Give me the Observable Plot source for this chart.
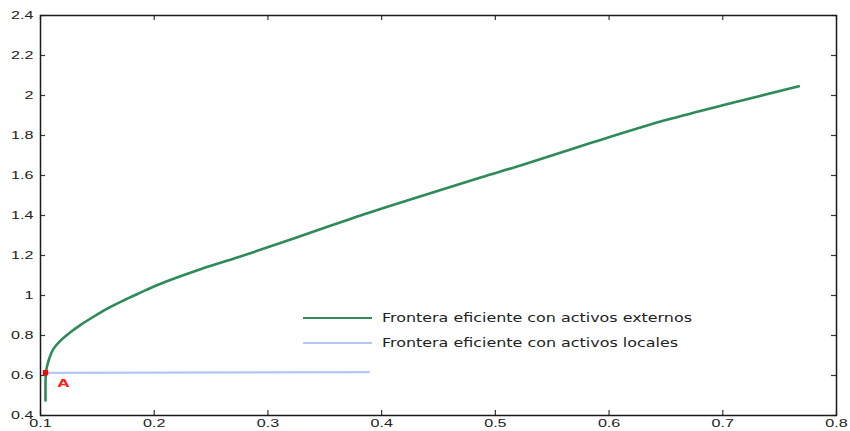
<!DOCTYPE html>
<html>
<head>
<meta charset="utf-8">
<script src="https://cdn.jsdelivr.net/npm/d3@7"></script>
<script src="https://cdn.jsdelivr.net/npm/@observablehq/plot@0.6"></script>
<style>
  html, body { margin: 0; padding: 0; background: #fff; }
  #chart svg { display: block; }
</style>
</head>
<body>
<div id="chart"></div>
<script>
// Efficient frontier with foreign assets (risk on x, return on y)
const externosX = [0.1044, 0.1044, 0.1046, 0.1050, 0.1064, 0.1080, 0.1114, 0.1180, 0.1260, 0.1350,
                   0.1455, 0.1580, 0.1718, 0.1870, 0.2040, 0.2407, 0.2744, 0.3200, 0.3814, 0.4400,
                   0.4870, 0.5221, 0.5837, 0.6500, 0.7095, 0.7669];
const externosY = [0.475, 0.550, 0.600, 0.625, 0.660, 0.690, 0.733, 0.777, 0.815, 0.852,
                   0.890, 0.932, 0.972, 1.012, 1.055, 1.131, 1.192, 1.280, 1.400, 1.506,
                   1.590, 1.650, 1.762, 1.877, 1.965, 2.046];

// Efficient frontier with local assets only
const localesX = [0.1044, 0.2000, 0.3000, 0.3887];
const localesY = [0.613, 0.614, 0.6155, 0.6165];

// Marked portfolio
const puntoAX = [0.1044];
const puntoAY = [0.614];
const puntoALabel = ["A"];

// Axis ticks
const xTicks = [0.1, 0.2, 0.3, 0.4, 0.5, 0.6, 0.7, 0.8];
const xTickLabels = ["0.1", "0.2", "0.3", "0.4", "0.5", "0.6", "0.7", "0.8"];
const yTicks = [0.4, 0.6, 0.8, 1.0, 1.2, 1.4, 1.6, 1.8, 2.0, 2.2, 2.4];
const yTickLabels = ["0.4", "0.6", "0.8", "1", "1.2", "1.4", "1.6", "1.8", "2", "2.2", "2.4"];

// Legend
const seriesNames = ["Frontera eficiente con activos externos", "Frontera eficiente con activos locales"];
const seriesColors = ["#2e8a58", "#b3c7f7"];

const W = 850, H = 431;
const M = {left: 40, right: 14, top: 15, bottom: 16};
const innerW = W - M.left - M.right;
const innerH = H - M.top - M.bottom;
const TICK = 5;
const tickStroke = {stroke: "#333", strokeWidth: 1.2};

const plot = Plot.plot({
  width: W,
  height: H,
  marginLeft: M.left,
  marginRight: M.right,
  marginTop: M.top,
  marginBottom: M.bottom,
  x: {domain: [0.1, 0.8]},
  y: {domain: [0.4, 2.4]},
  style: {fontFamily: "'Liberation Sans', Arial, sans-serif", fontSize: "11.5px", color: "#222", background: "#fff"},
  marks: [
    Plot.axisX(xTicks, {anchor: "bottom", tickSize: 0, tickPadding: 3, label: null,
      tickFormat: (d, i) => xTickLabels[i]}),
    Plot.axisY(yTicks, {anchor: "left", tickSize: 0, tickPadding: 7, label: null,
      tickFormat: (d, i) => yTickLabels[i]}),
    // inward tick marks on all four sides
    Plot.ruleX(xTicks, {x: d => d, insetTop: innerH - TICK, ...tickStroke}),
    Plot.ruleX(xTicks, {x: d => d, insetBottom: innerH - TICK, ...tickStroke}),
    Plot.ruleY(yTicks, {y: d => d, insetRight: innerW - TICK, ...tickStroke}),
    Plot.ruleY(yTicks, {y: d => d, insetLeft: innerW - TICK, ...tickStroke}),
    Plot.line(localesX, {x: localesX, y: localesY, stroke: seriesColors[1], strokeWidth: 2.2}),
    Plot.line(externosX, {x: externosX, y: externosY, stroke: seriesColors[0], strokeWidth: 2.6, curve: "catmull-rom"}),
    Plot.dot(puntoAX, {x: puntoAX, y: puntoAY, symbol: "square", r: 3, fill: "#ff0000", stroke: null}),
    Plot.text(puntoAX, {x: puntoAX, y: puntoAY, text: puntoALabel, dx: 18, dy: 11,
      fill: "#ff2020", fontWeight: "bold", fontSize: 11, fontFamily: "'DejaVu Sans', sans-serif"}),
    Plot.frame({stroke: "#1a1a1a", strokeWidth: 1.5})
  ]
});

document.getElementById("chart").appendChild(plot);

// widen axis labels to the stretched lettering of the figure
d3.select(plot).selectAll("g[aria-label='x-axis tick label'] text, g[aria-label='y-axis tick label'] text, g[aria-label='text'] text")
  .each(function() {
    const w = this.getComputedTextLength();
    this.setAttribute("textLength", (w * 1.4).toFixed(1));
    this.setAttribute("lengthAdjust", "spacingAndGlyphs");
  });

// legend inside the plotting area
const legend = d3.select(plot).append("g")
  .attr("font-family", "'DejaVu Sans', sans-serif")
  .attr("font-size", 11.5)
  .attr("text-anchor", "start")
  .attr("fill", "#222");
const legendWidths = [310, 296];
seriesNames.forEach((name, i) => {
  const y = 318 + i * 25;
  legend.append("line")
    .attr("x1", 303).attr("x2", 372).attr("y1", y).attr("y2", y)
    .attr("stroke", seriesColors[i]).attr("stroke-width", 2.2);
  legend.append("text")
    .attr("x", 382).attr("y", y).attr("dy", "0.35em")
    .attr("textLength", legendWidths[i]).attr("lengthAdjust", "spacingAndGlyphs")
    .text(name);
});
</script>
</body>
</html>
